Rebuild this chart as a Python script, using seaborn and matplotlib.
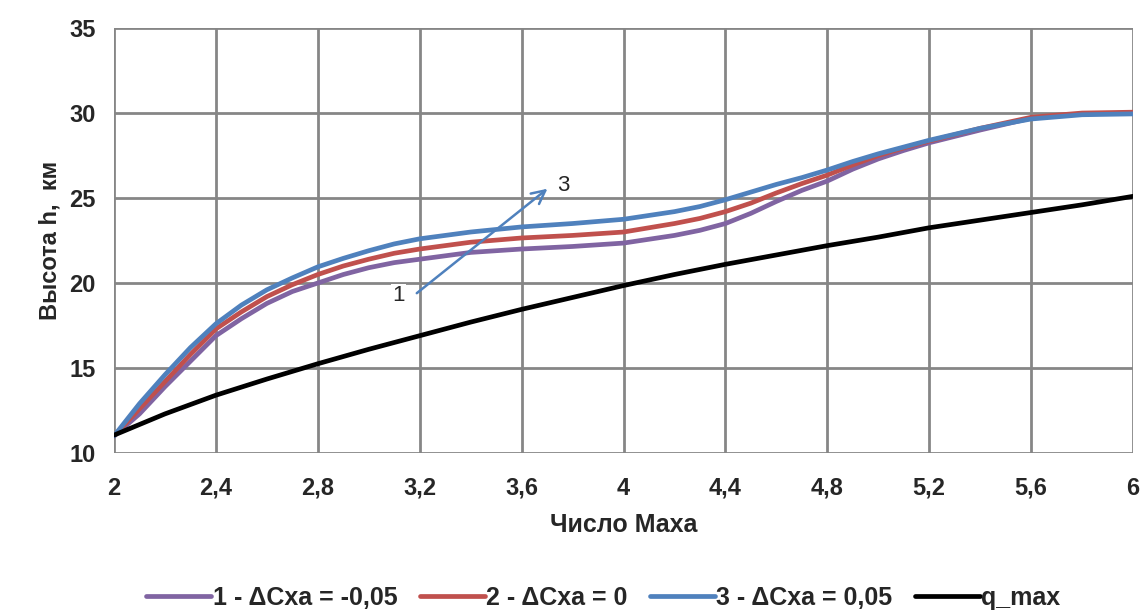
import matplotlib.pyplot as plt
import matplotlib.ticker as mticker
import pandas as pd
import seaborn as sns

mach = [2.0, 2.1, 2.2, 2.3, 2.4, 2.5, 2.6, 2.7, 2.8, 2.9, 3.0, 3.1, 3.2, 3.4, 3.6, 3.8,
        4.0, 4.2, 4.3, 4.4, 4.5, 4.6, 4.7, 4.8, 4.9, 5.0, 5.1, 5.2, 5.4, 5.6, 5.8, 6.0]
h_minus = [11.0, 12.3, 13.9, 15.4, 16.9, 17.9, 18.8, 19.5, 20.0, 20.5, 20.9, 21.2, 21.4, 21.8,
           22.0, 22.15, 22.35, 22.8, 23.1, 23.5, 24.1, 24.8, 25.45, 26.0, 26.7, 27.3, 27.8,
           28.25, 29.0, 29.7, 29.95, 30.0]
h_zero = [11.0, 12.6, 14.2, 15.8, 17.3, 18.3, 19.2, 19.9, 20.5, 21.0, 21.4, 21.75, 22.0, 22.4,
          22.65, 22.8, 23.0, 23.5, 23.8, 24.2, 24.7, 25.3, 25.85, 26.35, 26.95, 27.5, 27.95,
          28.35, 29.1, 29.75, 30.0, 30.05]
h_plus = [11.0, 12.9, 14.6, 16.2, 17.6, 18.7, 19.6, 20.3, 20.95, 21.45, 21.9, 22.3, 22.6, 23.0,
          23.3, 23.5, 23.75, 24.2, 24.5, 24.9, 25.35, 25.8, 26.2, 26.65, 27.15, 27.6, 28.0,
          28.4, 29.1, 29.65, 29.9, 29.95]
mach_q = [2.0, 2.2, 2.4, 2.6, 2.8, 3.0, 3.2, 3.4, 3.6, 3.8, 4.0,
          4.2, 4.4, 4.6, 4.8, 5.0, 5.2, 5.4, 5.6, 5.8, 6.0]
h_qmax = [11.05, 12.3, 13.4, 14.35, 15.25, 16.1, 16.9, 17.7, 18.45, 19.15, 19.85,
          20.5, 21.1, 21.65, 22.2, 22.7, 23.25, 23.7, 24.15, 24.6, 25.1]

labels = ["1 - ΔCxa = -0,05", "2 - ΔCxa = 0", "3 - ΔCxa = 0,05", "q_max"]
colors = ["#8064A2", "#C0504D", "#4F81BD", "#000000"]

sns.set_theme(style="white")
plt.rcParams["font.family"] = ["Liberation Sans", "DejaVu Sans"]

fig = plt.figure(figsize=(11.47, 6.10), dpi=100)
ax = fig.add_axes([0.0994, 0.2574, 0.8884, 0.6966])

curves = [(mach, h_minus), (mach, h_zero), (mach, h_plus), (mach_q, h_qmax)]
for (xs, ys), lab, col in zip(curves, labels, colors):
    df = pd.DataFrame({"M": xs, "h": ys})
    sns.lineplot(data=df, x="M", y="h", ax=ax, color=col, lw=3.4, label=lab,
                 solid_capstyle="round", solid_joinstyle="round")

ax.set_xlim(2, 6)
ax.set_ylim(10, 35)
ax.xaxis.set_major_locator(mticker.MultipleLocator(0.4))
ax.yaxis.set_major_locator(mticker.MultipleLocator(5))
ax.xaxis.set_major_formatter(mticker.FuncFormatter(lambda v, p: f"{v:g}".replace(".", ",")))
ax.grid(True, color="#868686", lw=2)
for s in ax.spines.values():
    s.set_visible(False)
ax.tick_params(axis="both", length=5, width=1.5, color="#868686", labelsize=17)
ax.tick_params(axis="x", pad=12)
ax.tick_params(axis="y", pad=8)
for t in ax.get_xticklabels() + ax.get_yticklabels():
    t.set_fontweight("bold")

ax.set_xlabel("Число Маха", fontsize=18, fontweight="bold", labelpad=10)
ax.set_ylabel("Высота h,  км", fontsize=17, fontweight="bold", labelpad=6)

# arrow showing growth of ΔCxa
ax.annotate("", xy=(3.71, 25.65), xytext=(3.18, 19.3),
            arrowprops=dict(arrowstyle="->", color="#4F81BD", lw=1.8, mutation_scale=24))
ax.text(3.14, 19.25, "1", ha="right", va="center", fontsize=16,
        bbox=dict(facecolor="white", edgecolor="none", pad=1))
ax.text(3.74, 25.75, "3", ha="left", va="center", fontsize=16,
        bbox=dict(facecolor="white", edgecolor="none", pad=1))

ax.legend(loc="upper center", bbox_to_anchor=(0.48, -0.26), ncol=4, frameon=False,
          handlelength=2.6, handletextpad=0.05, columnspacing=0.9,
          prop={"weight": "bold", "size": 18})

fig.savefig("out.png", dpi=100)
